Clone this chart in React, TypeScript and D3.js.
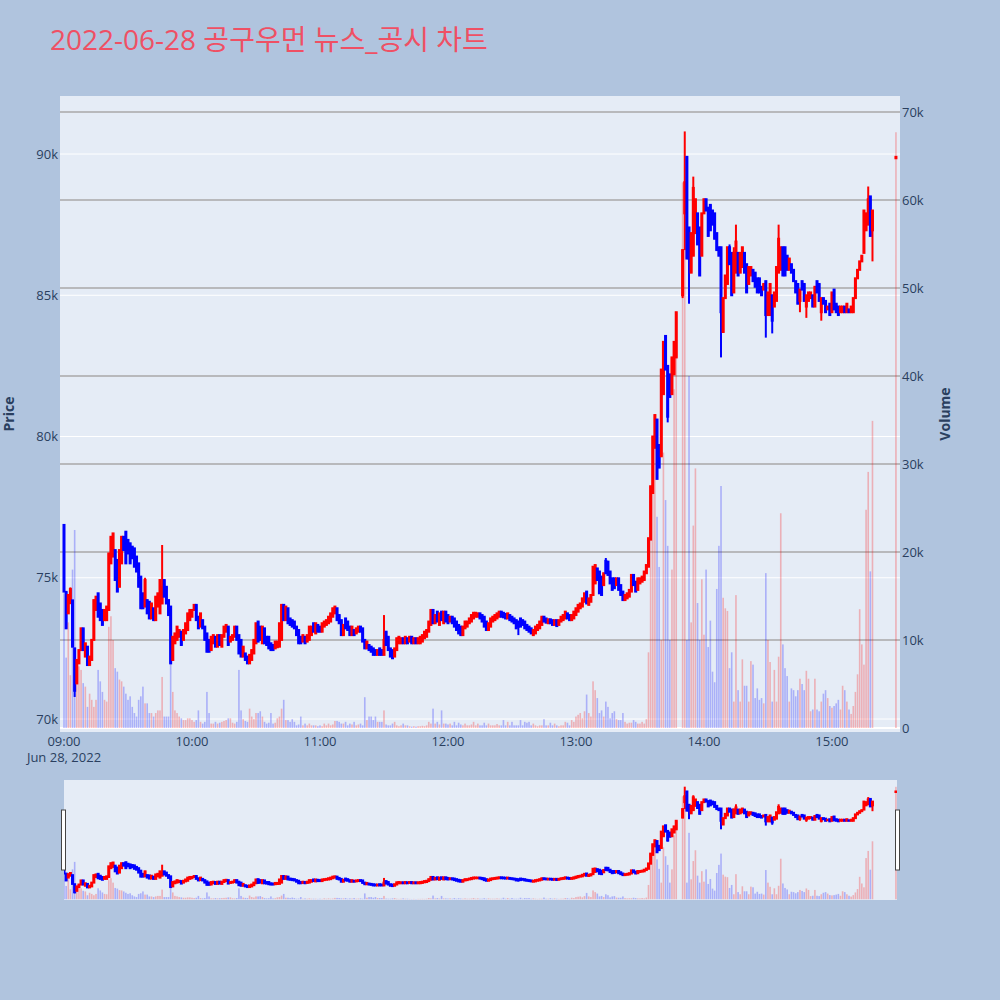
import React from 'react';
import * as d3 from 'd3';

// chart text
const TITLE = '2022-06-28 공구우먼 뉴스_공시 차트';
const DATE_LABEL = 'Jun 28, 2022';
const hourLabels = ['09:00', '10:00', '11:00', '12:00', '13:00', '14:00', '15:00'];
const priceTicks = [70, 75, 80, 85, 90]; // thousand KRW
const volumeTicks = [0, 10, 20, 30, 40, 50, 60, 70]; // thousand shares

// one entry per minute from 09:00 (index 0) to 15:30 (index 390); null = no trade (VI / closing auction wait)
const opens: (number | null)[] = [
  76.87, 74.5, 73.74, 74.1, 74.2, 72.5, 71.26, 71.97, 72.44, 73.21,
  72.21, 72.56, 71.91, 72.09, 72.8, 73.86, 74.45, 74.09, 73.86, 73.5,
  73.5, 73.86, 75.51, 75.75, 75.98, 75.63, 74.68, 75.51, 76.45, 76.63,
  76.34, 76.22, 76.1, 76.04, 75.75, 75.51, 75.04, 74.45, 73.98, 74.21,
  74.15, 73.56, 73.92, 73.5, 73.98, 73.74, 74.09, 74.92, 74.68, 74.21,
  73.98, 72.09, 72.68, 72.8, 72.91, 73.09, 72.8, 73.03, 73.15, 73.5,
  73.62, 73.86, 74.04, 73.62, 73.27, 73.5, 73.27, 73.03, 72.8, 72.44,
  72.68, 72.91, 72.56, 72.97, 72.56, 72.91, 73.09, 73.27, 72.74, 72.8,
  72.91, 73.27, 72.97, 72.8, 72.21, 72.32, 72.21, 71.97, 72.09, 72.32,
  72.68, 73.45, 73.27, 72.68, 73.21, 72.91, 72.91, 72.68, 72.62, 72.5,
  72.54, 72.56, 72.8, 74.04, 73.5, 73.92, 73.56, 73.5, 73.45, 73.27,
  73.15, 72.91, 72.74, 72.91, 72.74, 72.8, 72.97, 73.39, 73.03, 73.33,
  73.27, 73.09, 73.27, 73.33, 73.39, 73.45, 73.62, 73.74, 73.92, 73.68,
  73.5, 72.97, 73.56, 73.45, 73.27, 72.97, 73.15, 73.03, 73.09, 73.27,
  73.21, 72.8, 72.5, 72.62, 72.56, 72.5, 72.44, 72.27, 72.5, 72.44,
  72.27, 73.09, 72.91, 72.5, 72.44, 72.21, 72.44, 72.68, 72.68, 72.86,
  72.68, 72.86, 72.74, 72.91, 72.68, 72.86, 72.68, 72.68, 72.74, 72.86,
  72.91, 73.09, 73.33, 73.86, 73.39, 73.8, 73.33, 73.8, 73.39, 73.8,
  73.68, 73.45, 73.62, 73.56, 73.45, 73.33, 73.27, 72.97, 73.21, 73.27,
  73.39, 73.45, 73.56, 73.62, 73.62, 73.74, 73.68, 73.62, 73.45, 73.15,
  73.27, 73.45, 73.5, 73.56, 73.62, 73.8, 73.76, 73.72, 73.56, 73.68,
  73.62, 73.56, 73.5, 73.45, 73.56, 73.5, 73.45, 73.33, 73.27, 73.21,
  72.97, 73.03, 73.15, 73.21, 73.33, 73.62, 73.56, 73.39, 73.53, 73.5,
  73.33, 73.5, 73.33, 73.45, 73.5, 73.56, 73.74, 73.68, 73.5, 73.56,
  73.68, 73.8, 73.92, 73.98, 74.15, 74.51, 74.04, 74.15, 74.39, 74.8,
  75.33, 75.22, 75.04, 74.74, 75.6, 75.57, 75.22, 74.98, 74.98, 74.74,
  74.98, 74.74, 74.51, 74.21, 74.27, 74.33, 74.51, 75.1, 74.86, 74.57,
  74.8, 74.86, 74.92, 75.16, 75.39, 76.35, 78.0, 79.6, 80.6, 79.7,
  79.3, 81.5, 83.56, 82.5, 82.2, 81.5, 82.2, 82.8, null, null,
  85.0, 87.9, 89.9, 87.4, 85.8, 86.4, 87.2, 87.9, 87.4, 86.4,
  87.9, 88.4, 88.1, 88.2, 88.0, 87.9, 87.2, 86.7, 86.7, 83.7,
  84.9, 85.4, 86.7, 86.5, 85.1, 85.8, 86.5, 85.8, 86.0, 86.5,
  86.1, 85.4, 85.7, 85.9, 85.8, 85.6, 85.6, 85.3, 85.2, 85.5,
  84.3, 84.3, 85.0, 84.6, 84.8, 85.8, 85.9, 86.7, 86.7, 86.4,
  85.9, 86.1, 85.9, 85.5, 85.4, 84.8, 85.5, 85.4, 84.6, 84.8,
  84.9, 85.0, 84.6, 85.5, 85.4, 84.4, 84.9, 84.8, 84.5, 84.7,
  84.4, 85.2, 84.7, 84.6, 84.4, 84.4, 84.6, 84.4, 84.5, 84.4,
  84.4, 84.9, 85.6, 85.9, 86.2, 86.5, 87.3, 87.5, 88.5, 87.3,
  null, null, null, null, null, null, null, null, null, null,
  89.85,
];

const closes: (number | null)[] = [
  74.51, 73.21, 74.39, 74.6, 72.56, 71.0, 72.09, 72.44, 73.21, 72.44,
  72.68, 71.91, 72.21, 72.8, 74.21, 74.33, 73.62, 73.5, 73.33, 73.86,
  73.98, 75.86, 76.45, 76.57, 74.92, 74.51, 75.98, 76.45, 75.98, 75.51,
  75.86, 75.51, 75.69, 75.39, 75.22, 74.68, 73.92, 73.92, 74.92, 73.74,
  73.56, 74.09, 73.5, 74.33, 74.45, 74.92, 74.68, 74.33, 74.09, 73.68,
  71.97, 72.91, 73.03, 73.27, 73.15, 72.62, 73.15, 73.39, 73.74, 73.86,
  73.86, 74.04, 73.5, 73.21, 73.74, 73.21, 72.8, 72.38, 72.38, 72.91,
  72.97, 72.56, 72.97, 72.62, 72.97, 73.27, 73.33, 72.62, 72.91, 72.97,
  73.27, 72.8, 72.32, 72.21, 72.56, 72.09, 71.97, 72.27, 72.44, 72.8,
  73.39, 72.74, 72.8, 73.27, 72.68, 72.62, 72.5, 72.44, 72.44, 72.74,
  72.74, 73.39, 74.04, 73.5, 73.98, 73.39, 73.33, 73.27, 73.21, 72.97,
  72.68, 72.68, 72.97, 72.68, 72.97, 73.27, 73.27, 73.09, 73.39, 73.09,
  73.09, 73.39, 73.45, 73.5, 73.62, 73.74, 73.92, 73.98, 73.5, 73.39,
  72.97, 73.33, 73.21, 73.15, 72.97, 73.27, 72.97, 73.21, 73.27, 73.09,
  72.74, 72.5, 72.74, 72.44, 72.38, 72.27, 72.27, 72.44, 72.27, 72.27,
  72.8, 72.62, 72.44, 72.21, 72.15, 72.5, 72.86, 72.91, 72.86, 72.68,
  72.91, 72.68, 72.91, 72.68, 72.86, 72.68, 72.86, 72.91, 72.97, 73.09,
  73.15, 73.45, 73.86, 73.39, 73.68, 73.45, 73.74, 73.5, 73.8, 73.45,
  73.39, 73.62, 73.39, 73.27, 73.15, 73.03, 72.97, 73.27, 73.45, 73.45,
  73.56, 73.68, 73.76, 73.76, 73.74, 73.56, 73.45, 73.27, 73.15, 73.39,
  73.56, 73.62, 73.68, 73.74, 73.8, 73.62, 73.6, 73.56, 73.74, 73.5,
  73.45, 73.39, 73.21, 73.27, 73.27, 73.33, 73.21, 73.15, 73.09, 73.03,
  73.15, 73.27, 73.33, 73.45, 73.62, 73.45, 73.41, 73.53, 73.39, 73.33,
  73.5, 73.29, 73.5, 73.62, 73.68, 73.8, 73.56, 73.5, 73.68, 73.8,
  73.92, 74.04, 74.09, 74.27, 74.45, 74.09, 74.27, 74.39, 75.39, 75.45,
  74.92, 74.45, 74.39, 75.16, 75.16, 75.1, 74.8, 74.57, 74.63, 74.98,
  74.57, 74.39, 74.21, 74.39, 74.45, 74.57, 75.1, 74.74, 74.51, 74.98,
  74.98, 75.04, 75.22, 75.45, 76.4, 78.24, 80.0, 80.76, 78.5, 78.9,
  82.37, 83.35, 82.37, 80.7, 81.4, 82.8, 83.35, 84.4, null, null,
  86.6, 89.0, 86.3, 86.3, 87.2, 88.8, 88.4, 86.8, 85.7, 87.9,
  88.4, 88.0, 87.1, 87.3, 87.5, 87.0, 86.6, 86.4, 84.4, 84.9,
  85.7, 86.7, 86.1, 85.0, 86.5, 86.9, 85.7, 86.5, 86.7, 85.8,
  85.1, 86.0, 86.0, 85.5, 85.3, 85.1, 85.1, 85.0, 85.4, 84.3,
  85.1, 85.4, 84.1, 85.1, 86.0, 87.0, 86.7, 85.7, 85.7, 85.9,
  86.3, 85.8, 85.5, 85.1, 84.7, 85.2, 85.2, 84.8, 85.0, 85.1,
  85.1, 84.6, 85.3, 85.1, 84.8, 84.9, 84.7, 84.4, 84.6, 84.3,
  85.1, 84.5, 84.4, 84.3, 84.6, 84.6, 84.4, 84.7, 84.4, 84.6,
  84.9, 85.6, 85.9, 86.2, 86.4, 88.0, 87.9, 88.4, 87.1, 88.0,
  null, null, null, null, null, null, null, null, null, null,
  89.9,
];

// wicks that reach past the candle body: [minute, price]
const highWicks: [number, number][] = [
  [3, 74.66], [38, 75.0], [46, 76.16], [150, 73.68], [254, 75.7], [291, 90.8],
  [295, 89.2], [312, 86.8], [314, 86.7], [315, 87.5], [335, 87.5], [377, 88.85],
];
const lowWicks: [number, number][] = [
  [5, 70.78], [213, 72.97], [283, 80.5], [290, 84.9], [291, 86.6], [293, 84.7],
  [308, 82.8], [329, 83.5], [332, 83.65], [345, 84.4], [348, 84.2], [355, 84.1], [379, 86.2],
];

const volumes: (number | null)[] = [
  15.3, 8, 12, 6, 18, 22.5, 5, 7, 6.6, 5.1,
  4.7, 2.4, 3.9, 3.2, 2.4, 3.2, 6.6, 5.3, 4.1, 3.2,
  3.0, 11.5, 12.7, 10, 6.8, 6.4, 5.5, 5.3, 4.7, 3.9,
  3.2, 3.6, 2.4, 1.7, 1.3, 3.2, 3.6, 4.7, 2.8, 2.8,
  1.7, 1.7, 1.3, 1.7, 2.0, 2.0, 5.8, 1.3, 1.3, 1.3,
  7.3, 4.1, 2.0, 1.7, 1.3, 1.1, 0.9, 0.9, 1.1, 1.1,
  0.9, 0.7, 0.9, 2.0, 0.7, 0.5, 0.7, 4.1, 1.7, 0.5,
  0.5, 0.7, 0.5, 0.6, 0.7, 0.8, 0.9, 1.1, 1.1, 0.6,
  0.5, 0.7, 6.6, 2.0, 1.0, 0.8, 0.7, 2.2, 1.3, 1.0,
  1.7, 1.7, 1.9, 1.3, 0.7, 0.5, 0.6, 1.7, 0.5, 0.6,
  1.1, 1.3, 2.2, 3.2, 0.9, 0.9, 0.7, 1.0, 0.7, 0.3,
  0.4, 1.3, 0.3, 0.5, 0.3, 0.5, 0.3, 0.3, 0.3, 0.2,
  0.3, 0.2, 0.5, 0.3, 0.5, 0.3, 0.4, 0.8, 0.8, 0.7,
  0.5, 0.5, 0.7, 0.3, 0.5, 0.4, 0.7, 0.3, 0.4, 0.5,
  0.3, 3.5, 0.9, 1.3, 1.3, 0.9, 1.3, 0.7, 0.7, 0.7,
  2.0, 0.4, 0.3, 0.3, 0.5, 0.7, 0.3, 0.2, 0.3, 0.5,
  0.3, 0.3, 0.2, 0.15, 0.2, 0.15, 0.2, 0.2, 0.25, 0.2,
  0.3, 0.7, 0.5, 2.2, 0.5, 0.7, 0.4, 2.0, 0.5, 0.5,
  0.4, 0.5, 0.3, 0.7, 0.3, 0.6, 0.4, 0.3, 0.5, 0.3,
  0.3, 0.4, 0.7, 0.3, 0.5, 0.3, 0.3, 0.6, 0.3, 0.5,
  0.3, 0.3, 0.3, 0.45, 0.3, 0.3, 0.9, 0.3, 0.7, 0.3,
  0.7, 0.3, 0.3, 0.3, 0.9, 0.3, 0.7, 0.6, 0.7, 0.3,
  0.5, 0.3, 0.2, 0.3, 0.3, 1.0, 0.3, 0.3, 0.6, 0.3,
  0.5, 0.3, 0.2, 0.3, 0.3, 0.7, 0.6, 0.3, 0.9, 0.7,
  1.3, 1.5, 1.7, 1.1, 1.9, 3.8, 1.7, 1.3, 5.3, 4.3,
  3.4, 1.7, 2.0, 1.3, 3.0, 2.4, 1.1, 1.7, 1.9, 1.0,
  0.9, 0.9, 1.7, 0.7, 0.5, 0.6, 0.6, 0.9, 0.7, 0.5,
  0.5, 0.7, 0.5, 1.0, 8.6, 25.9, 33, 31.8, 24, 18.3,
  10, 31.3, 25.9, 20.7, 10, 18, 38.5, 47, null, null,
  62, 64, 10, 40, 12, 23, 29.5, 14.2, 10, 16.9,
  10.6, 18, 9.2, 12.2, 6.4, 5.2, 15.8, 20.7, 27.5, 14.8,
  13.6, 13.3, 6.8, 8.6, 3, 15.1, 4.3, 3, 7.8, 4.8,
  4.8, 3, 7.6, 7.2, 3.4, 4.5, 3.2, 3.4, 2.8, 17.6,
  10, 7.5, 3, 6.6, 3, 8.1, 24.4, 9.5, 6.8, 5.9,
  3, 4.5, 4.3, 3.6, 4.3, 5.6, 5, 4.3, 6.5, 5.6,
  1.9, 2.1, 5.6, 2.1, 1.9, 3, 3.9, 4.3, 3.4, 2.5,
  2.3, 2.5, 2.8, 3.2, 2.1, 4.8, 4.3, 3, 2.1, 1.6,
  2.5, 4.1, 6.1, 13.5, 9.5, 7.2, 24.8, 29.1, 17.8, 34.9,
  null, null, null, null, null, null, null, null, null, null,
  67.7,
];

const UP = '#ff0000';
const DOWN = '#0000ff';
const FONT = '"Open Sans", verdana, arial, sans-serif';
const AXIS_COLOR = '#2a3f5f';

type Candle = { i: number; o: number; c: number; h: number; l: number; v: number };

const candles: Candle[] = [];
opens.forEach((o, i) => {
  const c = closes[i];
  if (o == null || c == null) return;
  const hw = highWicks.find((d) => d[0] === i);
  const lw = lowWicks.find((d) => d[0] === i);
  candles.push({
    i,
    o,
    c,
    h: Math.max(o, c, hw ? hw[1] : -Infinity),
    l: Math.min(o, c, lw ? lw[1] : Infinity),
    v: volumes[i] ?? 0,
  });
});

const plot = { left: 60, right: 900, top: 96, bottom: 732 };
const slider = { left: 64, right: 897, top: 780, bottom: 900 };

const x = d3.scaleLinear().domain([-1.875, 391.9]).range([plot.left, plot.right]);
const yPrice = d3.scaleLinear().domain([69.54, 92.054]).range([plot.bottom, plot.top]);
const yVol = d3.scaleLinear().domain([-0.455, 71.818]).range([plot.bottom, plot.top]);
const ySlidePrice = yPrice.copy().range([slider.bottom, slider.top]);
const ySlideVol = yVol.copy().range([slider.bottom, slider.top]);

function Traces({ yp, yv, clip }: { yp: d3.ScaleLinear<number, number>; yv: d3.ScaleLinear<number, number>; clip: string }) {
  const barW = 1.6;
  const bodyW = 1.0;
  return (
    <g clipPath={`url(#${clip})`}>
      <g>
        {candles.map((d) => {
          const up = d.c >= d.o;
          const top = yp(Math.max(d.o, d.c));
          const bot = yp(Math.min(d.o, d.c));
          const cx = x(d.i);
          return (
            <g key={d.i} stroke={up ? UP : DOWN} fill={up ? UP : DOWN} strokeWidth={2}>
              <line x1={cx} x2={cx} y1={yp(d.h)} y2={yp(d.l)} />
              <rect x={cx - bodyW / 2} width={bodyW} y={top} height={Math.max(0.5, bot - top)} />
            </g>
          );
        })}
      </g>
      <g opacity={0.25}>
        {candles.map((d) => (
          <rect
            key={d.i}
            x={x(d.i) - barW / 2}
            width={barW}
            y={yv(d.v)}
            height={yv(0) - yv(d.v)}
            fill={d.c >= d.o ? UP : DOWN}
          />
        ))}
      </g>
    </g>
  );
}

export default function App() {
  const hours = hourLabels.map((_, k) => k * 60);
  return (
    <svg width={1000} height={1000} style={{ position: 'absolute', left: 0, top: 0, display: 'block' }} fontFamily={FONT}>
      <defs>
        <clipPath id="mainClip">
          <rect x={plot.left} y={plot.top} width={plot.right - plot.left} height={plot.bottom - plot.top} />
        </clipPath>
        <clipPath id="sliderClip">
          <rect x={slider.left} y={slider.top} width={slider.right - slider.left} height={slider.bottom - slider.top} />
        </clipPath>
      </defs>
      <rect width={1000} height={1000} fill="#b0c4de" />
      <text x={50} y={50} fontSize={28} fill="#ef5064" fontFamily={`${FONT}, "Noto Sans CJK KR"`}>{TITLE}</text>

      {/* main plot */}
      <rect x={plot.left} y={plot.top} width={plot.right - plot.left} height={plot.bottom - plot.top} fill="#e5ecf6" />
      {priceTicks.map((t) => (
        <line key={`pg${t}`} x1={plot.left} x2={plot.right} y1={yPrice(t)} y2={yPrice(t)} stroke="#ffffff" strokeWidth={1} />
      ))}
      {volumeTicks.filter((t) => t > 0).map((t) => (
        <line key={`vg${t}`} x1={plot.left} x2={plot.right} y1={yVol(t)} y2={yVol(t)} stroke="#a9a9a9" strokeWidth={1.5} />
      ))}
      <line x1={plot.left} x2={plot.right} y1={yVol(0)} y2={yVol(0)} stroke="#ffffff" strokeWidth={2} />
      <Traces yp={yPrice} yv={yVol} clip="mainClip" />

      {/* left price axis */}
      {priceTicks.map((t) => (
        <text key={`pt${t}`} x={58} y={yPrice(t)} dy="0.35em" textAnchor="end" fontSize={13} fill={AXIS_COLOR}>{`${t}k`}</text>
      ))}
      <text transform={`translate(14,${(plot.top + plot.bottom) / 2}) rotate(-90)`} textAnchor="middle" fontSize={14} fontWeight="bold" fill={AXIS_COLOR}>Price</text>

      {/* right volume axis */}
      {volumeTicks.map((t) => (
        <text key={`vt${t}`} x={902} y={yVol(t)} dy="0.35em" textAnchor="start" fontSize={13} fill={AXIS_COLOR}>{t === 0 ? '0' : `${t}k`}</text>
      ))}
      <text transform={`translate(950,${(plot.top + plot.bottom) / 2}) rotate(-90)`} textAnchor="middle" fontSize={14} fontWeight="bold" fill={AXIS_COLOR}>Volume</text>

      {/* time axis */}
      {hours.map((m, k) => (
        <text key={`xt${m}`} x={x(m)} y={746} textAnchor="middle" fontSize={13} fill={AXIS_COLOR}>{hourLabels[k]}</text>
      ))}
      <text x={x(0)} y={762} textAnchor="middle" fontSize={13} fill={AXIS_COLOR}>{DATE_LABEL}</text>

      {/* range slider */}
      <rect x={slider.left} y={slider.top} width={slider.right - slider.left} height={slider.bottom - slider.top} fill="#e5ecf6" />
      <Traces yp={ySlidePrice} yv={ySlideVol} clip="sliderClip" />
      <rect x={61.5} y={810} width={4} height={60} fill="#ffffff" stroke="#444444" strokeWidth={1} />
      <rect x={895.5} y={810} width={4} height={60} fill="#ffffff" stroke="#444444" strokeWidth={1} />
    </svg>
  );
}
